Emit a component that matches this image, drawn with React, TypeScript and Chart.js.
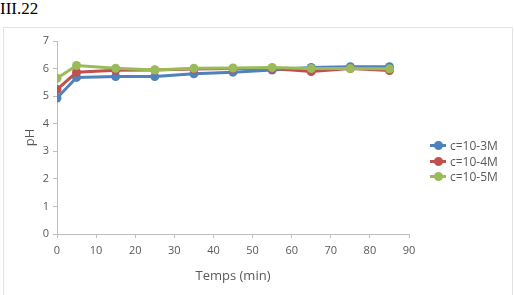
import React, { useEffect, useRef } from "react";
import { Chart, registerables } from "chart.js";

Chart.register(...registerables);

const times = [0, 5, 15, 25, 35, 45, 55, 65, 75, 85];
const seriesLabels = ["c=10-3M", "c=10-4M", "c=10-5M"];
const blueValues = [4.93, 5.68, 5.71, 5.71, 5.81, 5.87, 5.95, 6.04, 6.07, 6.07];
const redValues = [5.24, 5.87, 5.94, 5.95, 5.98, 6.0, 6.0, 5.89, 6.0, 5.93];
const greenValues = [5.65, 6.11, 6.01, 5.95, 6.01, 6.02, 6.04, 6.0, 6.0, 5.99];
const colors = ["#4F81BD", "#C0504D", "#9BBB59"];
const xTitle = "Temps (min)";
const yTitle = "pH";
const figureLabel = "III.22";

export default function App() {
  const ref = useRef<HTMLCanvasElement | null>(null);
  useEffect(() => {
    if (!ref.current) return;
    const all = [blueValues, redValues, greenValues];
    const chart = new Chart(ref.current, {
      type: "scatter",
      data: {
        datasets: all.map((vals, i) => ({
          label: seriesLabels[i],
          data: times.map((t, j) => ({ x: t, y: vals[j] })),
          showLine: true,
          borderColor: colors[i],
          backgroundColor: colors[i],
          borderWidth: 3,
          pointRadius: 4.5,
          pointBorderWidth: 0,
          tension: 0,
          order: 2 - i,
        })),
      },
      options: {
        animation: false,
        responsive: false,
        maintainAspectRatio: false,
        layout: { padding: { left: 0, top: 41, right: 105, bottom: 0 } },
        plugins: { legend: { display: false }, tooltip: { enabled: false } },
        scales: {
          x: {
            type: "linear",
            min: 0,
            max: 90,
            afterFit: (s: any) => {
              s.height = 61;
            },
            ticks: {
              stepSize: 10,
              color: "#595959",
              font: { family: "Open Sans", size: 11 },
              padding: 6,
            },
            grid: {
              drawOnChartArea: false,
              drawTicks: true,
              tickLength: 4,
              color: "#bfbfbf",
            },
            border: { color: "#bfbfbf", width: 1 },
            title: {
              display: true,
              text: xTitle,
              color: "#595959",
              font: { family: "Open Sans", size: 13 },
              padding: { top: 0, bottom: 11 },
            },
          },
          y: {
            type: "linear",
            min: 0,
            max: 7,
            afterFit: (s: any) => {
              s.width = 57;
            },
            ticks: {
              stepSize: 1,
              color: "#595959",
              font: { family: "Open Sans", size: 11 },
              padding: 4,
            },
            grid: {
              drawOnChartArea: false,
              drawTicks: true,
              tickLength: 4,
              color: "#bfbfbf",
            },
            border: { color: "#bfbfbf", width: 1 },
            title: {
              display: true,
              text: yTitle,
              color: "#595959",
              font: { family: "Open Sans", size: 13 },
              padding: { top: 22, bottom: 0 },
            },
          },
        },
      },
    });
    return () => chart.destroy();
  }, []);

  return (
    <div
      style={{
        position: "absolute",
        left: 0,
        top: 0,
        width: 514,
        height: 295,
        background: "#fff",
        overflow: "hidden",
      }}
    >
      <div
        style={{
          position: "absolute",
          left: 0,
          top: 0,
          fontFamily: "'Liberation Serif', 'Times New Roman', serif",
          fontSize: 17,
          lineHeight: "17px",
          color: "#000",
        }}
      >
        {figureLabel}
      </div>
      <div
        style={{
          position: "absolute",
          left: 3,
          top: 27,
          width: 508,
          height: 280,
          border: "1px solid #e3e3e3",
        }}
      />
      <canvas
        ref={ref}
        width={514}
        height={295}
        style={{ position: "absolute", left: 0, top: 0, width: 514, height: 295 }}
      />
      <div
        style={{
          position: "absolute",
          left: 430,
          top: 138,
          fontFamily: "'Open Sans', sans-serif",
          fontSize: 12,
          color: "#595959",
        }}
      >
        {seriesLabels.map((l, i) => (
          <div
            key={l}
            style={{ display: "flex", alignItems: "center", height: 15.5, whiteSpace: "nowrap" }}
          >
            <span style={{ position: "relative", width: 16, height: 10, marginRight: 4 }}>
              <span
                style={{
                  position: "absolute",
                  left: 0,
                  top: 3.5,
                  width: 16,
                  height: 3,
                  background: colors[i],
                }}
              />
              <span
                style={{
                  position: "absolute",
                  left: 3.5,
                  top: 0.5,
                  width: 9,
                  height: 9,
                  borderRadius: "50%",
                  background: colors[i],
                }}
              />
            </span>
            {l}
          </div>
        ))}
      </div>
    </div>
  );
}
